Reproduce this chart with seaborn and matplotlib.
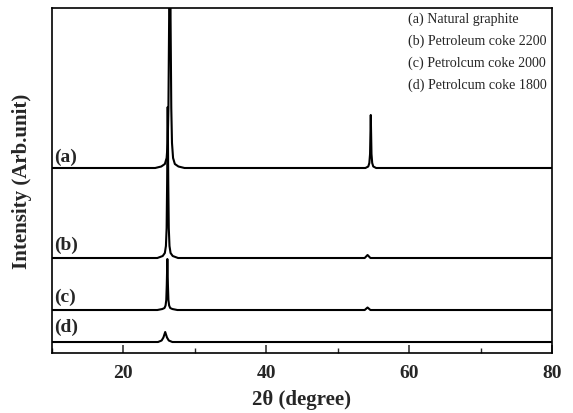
import matplotlib
matplotlib.use("Agg")
import matplotlib.pyplot as plt
import seaborn as sns
import pandas as pd
from matplotlib.ticker import MultipleLocator

sns.set_theme(style="white")
plt.rcParams['font.family'] = ['Liberation Serif', 'DejaVu Serif']

# Key points (2theta, intensity in arbitrary units)
a_x = [10, 24.5, 25.35, 25.85, 26.1, 26.25, 26.35, 26.45, 26.5, 26.55,
       26.6, 26.65, 26.75, 26.85, 27.0, 27.25, 27.75, 28.6,
       53.9, 54.3, 54.45, 54.55, 54.65, 54.75, 54.85, 55.0, 55.4, 80]
a_y = [0, 0, 1.5, 4, 10, 25, 60, 150, 400, 460,
       400, 150, 60, 25, 10, 4, 1.5, 0,
       0, 1.5, 5, 14, 53, 14, 5, 1.5, 0, 0]

b_x = [10, 24.8, 25.55, 25.85, 26.0, 26.1, 26.17, 26.25, 26.33, 26.4,
       26.5, 26.65, 26.95, 27.7, 53.8, 54.2, 54.6, 80]
b_y = [0, 0, 2, 5, 12, 30, 75, 151, 75, 30,
       12, 5, 2, 0, 0, 3, 0, 0]

c_x = [10, 24.8, 25.5, 25.8, 25.95, 26.05, 26.12, 26.2, 26.28, 26.35,
       26.45, 26.6, 26.9, 27.6, 53.8, 54.2, 54.6, 80]
c_y = [0, 0, 1, 2, 4.5, 10, 25, 51, 25, 10,
       4.5, 2, 1, 0, 0, 2.5, 0, 0]

d_x = [10, 24.9, 25.4, 25.65, 25.9, 26.15, 26.4, 26.9, 80]
d_y = [0, 0, 1.5, 4.5, 10, 4.5, 1.5, 0, 0]

series_names = ["(a)", "(b)", "(c)", "(d)"]
offsets = [185, 95, 43, 11]
legend_lines = ["(a) Natural graphite", "(b) Petroleum coke 2200",
                "(c) Petrolcum coke 2000", "(d) Petrolcum coke 1800"]

xs = [a_x, b_x, c_x, d_x]
ys = [a_y, b_y, c_y, d_y]

frames = []
for name, x, y, off in zip(series_names, xs, ys, offsets):
    frames.append(pd.DataFrame({"theta": x, "intensity": [v + off for v in y],
                                "sample": name}))
df = pd.concat(frames, ignore_index=True)

fig = plt.figure(figsize=(5.73, 4.14), dpi=100)
ax = fig.add_axes([0.0899, 0.1449, 0.8735, 0.8334])

sns.lineplot(data=df, x="theta", y="intensity", hue="sample", units="sample",
             estimator=None, sort=False, palette=["black"] * 4, linewidth=1.5,
             legend=False, ax=ax)

ax.set_xlim(10, 80)
ax.set_ylim(0, 345)
ax.set_yticks([])
ax.xaxis.set_major_locator(MultipleLocator(20))
ax.xaxis.set_minor_locator(MultipleLocator(10))
ax.tick_params(axis='x', which='major', direction='in', length=6, width=1.1,
               labelsize=14, pad=8, bottom=True)
ax.tick_params(axis='x', which='minor', direction='in', length=3.5, width=1.0,
               bottom=True)
for lab in ax.get_xticklabels():
    lab.set_fontweight('bold')
for sp in ax.spines.values():
    sp.set_linewidth(1.2)
    sp.set_color('black')

ax.set_xlabel("2θ (degree)", fontsize=15, fontweight='bold', labelpad=6)
ax.set_ylabel("Intensity (Arb.unit)", fontsize=15, fontweight='bold', labelpad=14)

label_y = [197, 109, 57, 27]
for name, yl in zip(series_names, label_y):
    ax.text(10.4, yl, name, fontsize=14, fontweight='bold', ha='left', va='center')

for i, t in enumerate(legend_lines):
    ax.text(0.712, 0.970 - i * 0.064, t, transform=ax.transAxes, fontsize=10.1,
            ha='left', va='center')

fig.savefig("out.png", dpi=100)
